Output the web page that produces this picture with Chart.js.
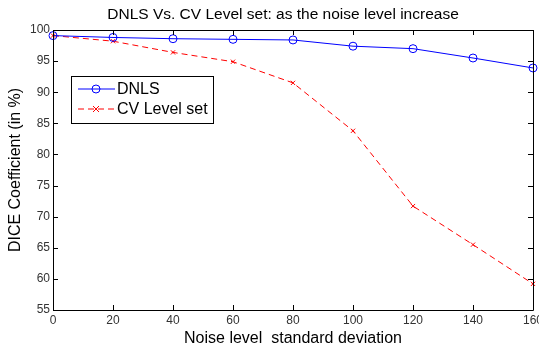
<!DOCTYPE html>
<html>
<head>
<meta charset="utf-8">
<script src="https://cdn.jsdelivr.net/npm/chart.js@4/dist/chart.umd.min.js"></script>
<style>
  html, body { margin: 0; padding: 0; background: #fff; }
  #wrap { width: 539px; height: 348px; }
</style>
</head>
<body>
<div id="wrap"><canvas id="chartContainer" width="539" height="348"></canvas></div>
<script>
// noise level (standard deviation)
var noiseLevels = [0, 20, 40, 60, 80, 100, 120, 140, 160];
// DICE coefficient in %
var dnlsValues = [99.1, 98.8, 98.6, 98.5, 98.4, 97.4, 97.0, 95.5, 93.9];
var cvValues   = [99.1, 98.2, 96.4, 94.9, 91.5, 83.8, 71.7, 65.5, 59.2];
var seriesNames = ['DNLS', 'CV Level set'];
var chartTitle = 'DNLS Vs. CV Level set: as the noise level increase';

var fontFam = '"Liberation Sans", Arial, Helvetica, sans-serif';

function toPoints(xs, ys){
    var pts = [];
    for (var i = 0; i < xs.length; i++){
        pts.push({x: xs[i], y: ys[i]});
    }
    return pts;
}

// box + inward ticks + legend + title like the matlab figure
var matlabFrame = {
    id: 'matlabFrame',
    afterDatasetsDraw: function(chart){
        var ctx = chart.ctx;
        var a = chart.chartArea;
        var xs = chart.scales.x, ys = chart.scales.y;
        ctx.save();
        ctx.strokeStyle = '#000';
        ctx.lineWidth = 1;
        ctx.beginPath();
        ctx.rect(Math.round(a.left) + 0.5, Math.round(a.top) + 0.5,
                 Math.round(a.right - a.left), Math.round(a.bottom - a.top));
        ctx.stroke();
        var tl = 5;
        ctx.beginPath();
        xs.ticks.forEach(function(t){
            var px = Math.round(xs.getPixelForValue(t.value)) + 0.5;
            ctx.moveTo(px, a.bottom); ctx.lineTo(px, a.bottom - tl);
            ctx.moveTo(px, a.top); ctx.lineTo(px, a.top + tl);
        });
        ys.ticks.forEach(function(t){
            var py = Math.round(ys.getPixelForValue(t.value)) + 0.5;
            ctx.moveTo(a.left, py); ctx.lineTo(a.left + tl, py);
            ctx.moveTo(a.right, py); ctx.lineTo(a.right - tl, py);
        });
        ctx.stroke();

        // title
        ctx.fillStyle = '#000';
        ctx.font = '15.5px ' + fontFam;
        ctx.textAlign = 'center';
        ctx.textBaseline = 'middle';
        ctx.fillText(chartTitle, 283, 15);

        // legend
        var lx = 71, ly = 76, lw = 142, lh = 47;
        ctx.fillStyle = '#fff';
        ctx.fillRect(lx, ly, lw, lh);
        ctx.strokeRect(lx + 0.5, ly + 0.5, lw, lh);
        ctx.font = '16px ' + fontFam;
        ctx.textBaseline = 'middle';
        ctx.textAlign = 'left';
        var rows = [ly + 13, ly + 33];
        chart.data.datasets.forEach(function(ds, i){
            var y = rows[i];
            ctx.strokeStyle = ds.borderColor;
            ctx.setLineDash(ds.borderDash || []);
            ctx.beginPath();
            ctx.moveTo(lx + 7, y); ctx.lineTo(lx + 44, y);
            ctx.stroke();
            ctx.setLineDash([]);
            ctx.beginPath();
            if (ds.pointStyle === 'circle'){
                ctx.arc(lx + 25, y, 4, 0, Math.PI * 2);
            } else {
                ctx.moveTo(lx + 22, y - 3); ctx.lineTo(lx + 28, y + 3);
                ctx.moveTo(lx + 28, y - 3); ctx.lineTo(lx + 22, y + 3);
            }
            ctx.stroke();
            ctx.fillStyle = '#000';
            ctx.fillText(ds.label, lx + 46, y + 1);
        });
        ctx.restore();
    }
};

var myChart = new Chart('chartContainer', {
    type: 'line',
    data: {
        datasets: [{
            label: seriesNames[0],
            data: toPoints(noiseLevels, dnlsValues),
            borderColor: '#0000ff',
            borderWidth: 1,
            pointStyle: 'circle',
            pointRadius: 4,
            pointBorderWidth: 1,
            pointBackgroundColor: 'rgba(0,0,0,0)',
            pointBorderColor: '#0000ff',
            fill: false,
            tension: 0
        }, {
            label: seriesNames[1],
            data: toPoints(noiseLevels, cvValues),
            borderColor: '#ff0000',
            borderWidth: 1,
            borderDash: [6, 4],
            pointStyle: 'crossRot',
            pointRadius: 3,
            pointBorderWidth: 1,
            pointBorderColor: '#ff0000',
            fill: false,
            tension: 0
        }]
    },
    options: {
        responsive: false,
        animation: false,
        clip: false,
        layout: { padding: { left: 0, right: 6, top: 30, bottom: 0 } },
        plugins: {
            legend: { display: false },
            tooltip: { enabled: false },
            title: { display: false }
        },
        scales: {
            x: {
                type: 'linear',
                min: 0, max: 160,
                grid: { display: false, drawTicks: false },
                border: { display: false },
                ticks: { stepSize: 20, color: '#333', font: { family: fontFam, size: 12 }, padding: 3, maxRotation: 0 },
                title: {
                    display: true,
                    text: 'Noise level  standard deviation',
                    color: '#000',
                    font: { family: fontFam, size: 16 },
                    padding: { top: 0, bottom: 0 }
                },
                afterFit: function(s){ s.height = 38; s.paddingLeft = 0; s.paddingRight = 0; }
            },
            y: {
                min: 55, max: 100,
                grid: { display: false, drawTicks: false },
                border: { display: false },
                ticks: { stepSize: 5, color: '#333', font: { family: fontFam, size: 12 }, padding: 3 },
                title: {
                    display: true,
                    text: 'DICE Coefficient (in %)',
                    color: '#000',
                    font: { family: fontFam, size: 16 },
                    padding: { top: 6, bottom: 0 }
                },
                afterFit: function(s){ s.width = 53; s.paddingTop = 0; s.paddingBottom = 0; }
            }
        }
    },
    plugins: [matlabFrame]
});
</script>
</body>
</html>
